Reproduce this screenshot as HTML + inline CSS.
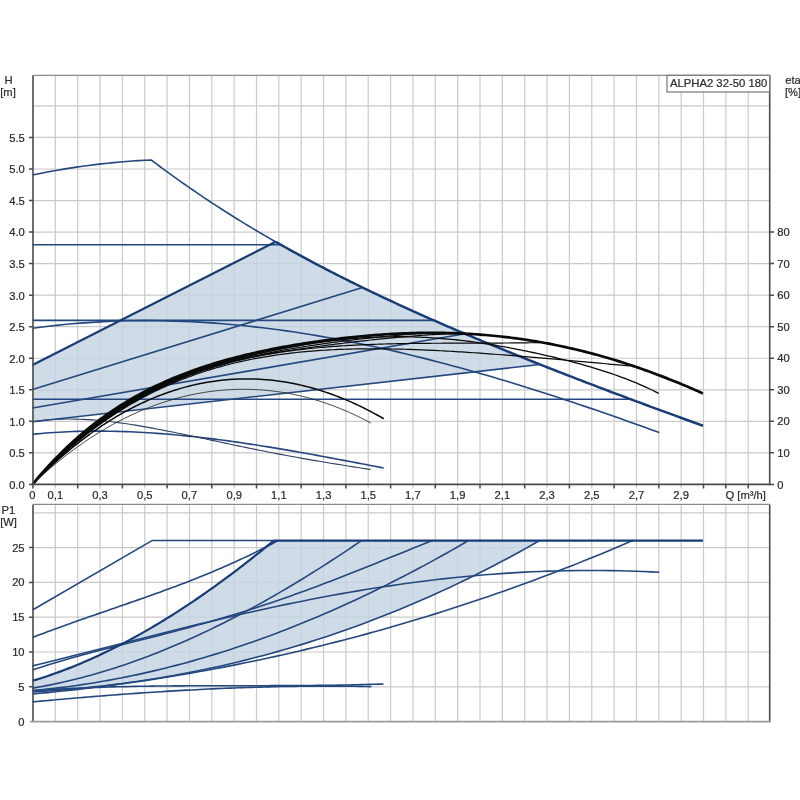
<!DOCTYPE html>
<html><head><meta charset="utf-8"><title>ALPHA2 32-50 180</title>
<style>
html,body{margin:0;padding:0;background:#fff;}
body{width:800px;height:800px;overflow:hidden;font-family:"Liberation Sans",sans-serif;}
svg{display:block;filter:blur(0.35px)}
svg text{font-family:"Liberation Sans",sans-serif;fill:#2b2b2b;stroke:#2b2b2b;stroke-width:0.22px;}
</style></head><body>
<svg width="800" height="800" viewBox="0 0 800 800">
<rect width="800" height="800" fill="#fff"/>
<path d="M55.35,75.3 V488.4 M55.35,504.4 V721.6 M77.70,75.3 V484.4 M77.70,504.4 V721.6 M100.05,75.3 V488.4 M100.05,504.4 V721.6 M122.40,75.3 V484.4 M122.40,504.4 V721.6 M144.75,75.3 V488.4 M144.75,504.4 V721.6 M167.10,75.3 V484.4 M167.10,504.4 V721.6 M189.45,75.3 V488.4 M189.45,504.4 V721.6 M211.80,75.3 V484.4 M211.80,504.4 V721.6 M234.15,75.3 V488.4 M234.15,504.4 V721.6 M256.50,75.3 V484.4 M256.50,504.4 V721.6 M278.85,75.3 V488.4 M278.85,504.4 V721.6 M301.20,75.3 V484.4 M301.20,504.4 V721.6 M323.55,75.3 V488.4 M323.55,504.4 V721.6 M345.90,75.3 V484.4 M345.90,504.4 V721.6 M368.25,75.3 V488.4 M368.25,504.4 V721.6 M390.60,75.3 V484.4 M390.60,504.4 V721.6 M412.95,75.3 V488.4 M412.95,504.4 V721.6 M435.30,75.3 V484.4 M435.30,504.4 V721.6 M457.65,75.3 V488.4 M457.65,504.4 V721.6 M480.00,75.3 V484.4 M480.00,504.4 V721.6 M502.35,75.3 V488.4 M502.35,504.4 V721.6 M524.70,75.3 V484.4 M524.70,504.4 V721.6 M547.05,75.3 V488.4 M547.05,504.4 V721.6 M569.40,75.3 V484.4 M569.40,504.4 V721.6 M591.75,75.3 V488.4 M591.75,504.4 V721.6 M614.10,75.3 V484.4 M614.10,504.4 V721.6 M636.45,75.3 V488.4 M636.45,504.4 V721.6 M658.80,75.3 V484.4 M658.80,504.4 V721.6 M681.15,75.3 V488.4 M681.15,504.4 V721.6 M703.50,75.3 V484.4 M703.50,504.4 V721.6 M725.85,75.3 V484.4 M725.85,504.4 V721.6 M748.20,75.3 V484.4 M748.20,504.4 V721.6 M33.0,452.86 H769.7 M33.0,421.32 H769.7 M33.0,389.78 H769.7 M33.0,358.24 H769.7 M33.0,326.70 H769.7 M33.0,295.16 H769.7 M33.0,263.62 H769.7 M33.0,232.08 H769.7 M33.0,200.54 H769.7 M33.0,169.00 H769.7 M33.0,137.46 H769.7 M33.0,105.92 H769.7 M33.0,686.80 H769.7 M33.0,652.00 H769.7 M33.0,617.20 H769.7 M33.0,582.40 H769.7 M33.0,547.60 H769.7 M33.0,512.80 H769.7" stroke="#cacaca" stroke-width="1.2" fill="none"/>
<path d="M32.50,365.00 L275.60,241.80 L276.02,242.04 L278.79,243.62 L281.56,245.18 L284.34,246.74 L287.11,248.29 L289.88,249.84 L292.65,251.37 L295.43,252.89 L298.20,254.41 L300.97,255.92 L303.74,257.42 L306.52,258.91 L309.29,260.40 L312.06,261.87 L314.83,263.34 L317.61,264.81 L320.38,266.26 L323.15,267.71 L325.92,269.15 L328.70,270.58 L331.47,272.00 L334.24,273.42 L337.02,274.83 L339.79,276.24 L342.56,277.63 L345.33,279.02 L348.11,280.41 L350.88,281.78 L353.65,283.16 L356.42,284.52 L359.20,285.88 L361.97,287.23 L364.74,288.58 L367.51,289.92 L370.29,291.25 L373.06,292.58 L375.83,293.90 L378.60,295.22 L381.38,296.53 L384.15,297.84 L386.92,299.14 L389.69,300.43 L392.47,301.72 L395.24,303.01 L398.01,304.29 L400.79,305.56 L403.56,306.83 L406.33,308.09 L409.10,309.35 L411.88,310.61 L414.65,311.86 L417.42,313.10 L420.19,314.34 L422.97,315.58 L425.74,316.81 L428.51,318.04 L431.28,319.26 L434.06,320.48 L436.83,321.70 L439.60,322.91 L442.37,324.11 L445.15,325.31 L447.92,326.51 L450.69,327.71 L453.46,328.90 L456.24,330.09 L459.01,331.27 L461.78,332.45 L464.56,333.63 L467.33,334.80 L470.10,335.97 L472.87,337.13 L475.65,338.29 L478.42,339.45 L481.19,340.61 L483.96,341.76 L486.74,342.91 L489.51,344.06 L492.28,345.20 L495.05,346.34 L497.83,347.48 L500.60,348.61 L503.37,349.74 L506.14,350.87 L508.92,352.00 L511.69,353.12 L514.46,354.24 L517.23,355.36 L520.01,356.47 L522.78,357.59 L525.55,358.70 L528.33,359.81 L531.10,360.91 L533.87,362.01 L536.64,363.11 L539.42,364.21 L540.00,364.44 L32.5,421.75 Z" fill="rgba(196,212,227,0.82)" stroke="none"/>
<path d="M32.50,680.80 L35.55,679.88 L38.61,678.93 L41.66,677.96 L44.72,676.96 L47.77,675.94 L50.83,674.90 L53.88,673.83 L56.94,672.74 L59.99,671.62 L63.04,670.48 L66.10,669.32 L69.15,668.13 L72.21,666.92 L75.26,665.69 L78.32,664.43 L81.37,663.15 L84.43,661.85 L87.48,660.53 L90.53,659.18 L93.59,657.81 L96.64,656.41 L99.70,655.00 L102.75,653.56 L105.81,652.10 L108.86,650.62 L111.92,649.11 L114.97,647.59 L118.02,646.04 L121.08,644.47 L124.13,642.88 L127.19,641.26 L130.24,639.63 L133.30,637.97 L136.35,636.30 L139.41,634.60 L142.46,632.88 L145.51,631.14 L148.57,629.38 L151.62,627.60 L154.68,625.80 L157.73,623.97 L160.79,622.13 L163.84,620.27 L166.89,618.38 L169.95,616.48 L173.00,614.56 L176.06,612.61 L179.11,610.65 L182.17,608.67 L185.22,606.67 L188.28,604.65 L191.33,602.61 L194.38,600.55 L197.44,598.47 L200.49,596.37 L203.55,594.25 L206.60,592.12 L209.66,589.96 L212.71,587.79 L215.77,585.60 L218.82,583.39 L221.87,581.16 L224.93,578.92 L227.98,576.65 L231.04,574.37 L234.09,572.07 L237.15,569.76 L240.20,567.42 L243.26,565.07 L246.31,562.70 L249.36,560.31 L252.42,557.91 L255.47,555.48 L258.53,553.05 L261.58,550.59 L264.64,548.12 L267.69,545.63 L270.75,543.12 L273.80,540.60 L539.50,540.60 L533.08,544.26 L526.66,547.88 L520.25,551.44 L513.83,554.96 L507.41,558.42 L500.99,561.83 L494.58,565.20 L488.16,568.52 L481.74,571.79 L475.32,575.00 L468.91,578.18 L462.49,581.30 L456.07,584.37 L449.65,587.40 L443.23,590.38 L436.82,593.31 L430.40,596.20 L423.98,599.04 L417.56,601.83 L411.15,604.58 L404.73,607.28 L398.31,609.93 L391.89,612.54 L385.47,615.10 L379.06,617.62 L372.64,620.09 L366.22,622.52 L359.80,624.90 L353.39,627.24 L346.97,629.53 L340.55,631.78 L334.13,633.98 L327.72,636.15 L321.30,638.26 L314.88,640.34 L308.46,642.37 L302.04,644.36 L295.63,646.31 L289.21,648.21 L282.79,650.07 L276.37,651.89 L269.96,653.67 L263.54,655.41 L257.12,657.10 L250.70,658.75 L244.28,660.37 L237.87,661.94 L231.45,663.47 L225.03,664.96 L218.61,666.41 L212.20,667.82 L205.78,669.20 L199.36,670.53 L192.94,671.82 L186.53,673.08 L180.11,674.29 L173.69,675.47 L167.27,676.60 L160.85,677.70 L154.44,678.77 L148.02,679.79 L141.60,680.78 L135.18,681.73 L128.77,682.64 L122.35,683.51 L115.93,684.35 L109.51,685.15 L103.09,685.92 L96.68,686.65 L90.26,687.34 L83.84,688.00 L77.42,688.62 L71.01,689.21 L64.59,689.76 L58.17,690.28 L51.75,690.76 L45.34,691.21 L38.92,691.62 L32.50,692.00 Z" fill="rgba(196,212,227,0.82)" stroke="none"/>
<path d="M32.50,244.70 L281.00,244.70" stroke="#23477e" stroke-width="1.6" fill="none" stroke-linejoin="round" />
<path d="M32.50,320.40 L434.50,320.40" stroke="#23477e" stroke-width="1.6" fill="none" stroke-linejoin="round" />
<path d="M32.50,399.25 L632.50,399.25" stroke="#23477e" stroke-width="1.6" fill="none" stroke-linejoin="round" />
<path d="M32.50,328.25 L40.43,327.20 L48.37,326.24 L56.30,325.35 L64.23,324.54 L72.17,323.81 L80.10,323.16 L88.03,322.58 L95.97,322.08 L103.90,321.65 L111.84,321.30 L119.77,321.02 L127.70,320.82 L135.64,320.68 L143.57,320.62 L151.50,320.63 L159.44,320.71 L167.37,320.86 L175.30,321.08 L183.24,321.37 L191.17,321.72 L199.10,322.14 L207.04,322.62 L214.97,323.17 L222.91,323.78 L230.84,324.46 L238.77,325.20 L246.71,326.00 L254.64,326.86 L262.57,327.78 L270.51,328.77 L278.44,329.81 L286.37,330.90 L294.31,332.06 L302.24,333.27 L310.17,334.54 L318.11,335.86 L326.04,337.24 L333.97,338.66 L341.91,340.14 L349.84,341.68 L357.78,343.26 L365.71,344.89 L373.64,346.57 L381.58,348.30 L389.51,350.08 L397.44,351.90 L405.38,353.77 L413.31,355.69 L421.24,357.64 L429.18,359.65 L437.11,361.69 L445.04,363.77 L452.98,365.90 L460.91,368.06 L468.84,370.27 L476.78,372.51 L484.71,374.79 L492.65,377.10 L500.58,379.45 L508.51,381.84 L516.45,384.26 L524.38,386.71 L532.31,389.19 L540.25,391.70 L548.18,394.25 L556.11,396.82 L564.05,399.42 L571.98,402.05 L579.91,404.70 L587.85,407.38 L595.78,410.09 L603.72,412.82 L611.65,415.57 L619.58,418.34 L627.52,421.14 L635.45,423.95 L643.38,426.78 L651.32,429.63 L659.25,432.50" stroke="#23477e" stroke-width="1.6" fill="none" stroke-linejoin="round" />
<path d="M32.50,434.25 L36.95,433.83 L41.39,433.43 L45.84,433.07 L50.28,432.75 L54.73,432.45 L59.18,432.18 L63.62,431.95 L68.07,431.74 L72.52,431.57 L76.96,431.42 L81.41,431.31 L85.85,431.22 L90.30,431.16 L94.75,431.13 L99.19,431.12 L103.64,431.14 L108.09,431.19 L112.53,431.26 L116.98,431.36 L121.42,431.49 L125.87,431.64 L130.32,431.81 L134.76,432.01 L139.21,432.23 L143.66,432.47 L148.10,432.74 L152.55,433.03 L156.99,433.34 L161.44,433.67 L165.89,434.02 L170.33,434.39 L174.78,434.78 L179.22,435.20 L183.67,435.63 L188.12,436.08 L192.56,436.55 L197.01,437.03 L201.46,437.54 L205.90,438.06 L210.35,438.59 L214.79,439.15 L219.24,439.72 L223.69,440.30 L228.13,440.90 L232.58,441.52 L237.03,442.14 L241.47,442.79 L245.92,443.44 L250.36,444.11 L254.81,444.79 L259.26,445.48 L263.70,446.19 L268.15,446.90 L272.59,447.63 L277.04,448.36 L281.49,449.11 L285.93,449.86 L290.38,450.63 L294.83,451.40 L299.27,452.18 L303.72,452.97 L308.16,453.76 L312.61,454.57 L317.06,455.38 L321.50,456.19 L325.95,457.01 L330.40,457.84 L334.84,458.67 L339.29,459.50 L343.73,460.34 L348.18,461.19 L352.63,462.03 L357.07,462.88 L361.52,463.73 L365.97,464.58 L370.41,465.44 L374.86,466.29 L379.30,467.15 L383.75,468.00" stroke="#23477e" stroke-width="1.6" fill="none" stroke-linejoin="round" />
<path d="M32.50,421.75 L36.78,421.12 L41.06,420.58 L45.34,420.13 L49.63,419.75 L53.91,419.46 L58.19,419.24 L62.47,419.10 L66.75,419.03 L71.03,419.02 L75.32,419.08 L79.60,419.20 L83.88,419.37 L88.16,419.61 L92.44,419.90 L96.72,420.23 L101.01,420.62 L105.29,421.05 L109.57,421.53 L113.85,422.04 L118.13,422.59 L122.41,423.18 L126.70,423.81 L130.98,424.46 L135.26,425.14 L139.54,425.86 L143.82,426.59 L148.10,427.35 L152.39,428.13 L156.67,428.94 L160.95,429.75 L165.23,430.59 L169.51,431.44 L173.79,432.30 L178.08,433.18 L182.36,434.06 L186.64,434.95 L190.92,435.85 L195.20,436.75 L199.48,437.66 L203.77,438.57 L208.05,439.49 L212.33,440.40 L216.61,441.31 L220.89,442.22 L225.17,443.13 L229.46,444.04 L233.74,444.94 L238.02,445.84 L242.30,446.73 L246.58,447.62 L250.86,448.50 L255.15,449.37 L259.43,450.23 L263.71,451.08 L267.99,451.93 L272.27,452.77 L276.55,453.59 L280.84,454.41 L285.12,455.22 L289.40,456.01 L293.68,456.80 L297.96,457.58 L302.24,458.34 L306.53,459.10 L310.81,459.85 L315.09,460.59 L319.37,461.31 L323.65,462.03 L327.93,462.74 L332.22,463.45 L336.50,464.14 L340.78,464.83 L345.06,465.51 L349.34,466.19 L353.62,466.86 L357.91,467.52 L362.19,468.18 L366.47,468.84 L370.75,469.50" stroke="#2e3f63" stroke-width="1.1" fill="none" stroke-linejoin="round" />
<path d="M32.50,175.00 L38.75,173.72 L45.00,172.49 L51.25,171.31 L57.50,170.19 L63.75,169.13 L70.00,168.12 L76.25,167.16 L82.50,166.27 L88.75,165.42 L95.00,164.63 L101.25,163.90 L107.50,163.22 L113.75,162.59 L120.00,162.02 L126.25,161.51 L132.50,161.05 L138.75,160.64 L145.00,160.29 L151.25,160.00 L151.25,160.00 L154.02,162.10 L156.80,164.18 L159.57,166.25 L162.34,168.31 L165.11,170.35 L167.89,172.38 L170.66,174.39 L173.43,176.39 L176.20,178.38 L178.98,180.36 L181.75,182.32 L184.52,184.27 L187.29,186.20 L190.07,188.12 L192.84,190.03 L195.61,191.93 L198.38,193.81 L201.16,195.69 L203.93,197.55 L206.70,199.39 L209.47,201.23 L212.25,203.05 L215.02,204.87 L217.79,206.67 L220.57,208.46 L223.34,210.24 L226.11,212.00 L228.88,213.76 L231.66,215.50 L234.43,217.24 L237.20,218.96 L239.97,220.68 L242.75,222.38 L245.52,224.07 L248.29,225.75 L251.06,227.43 L253.84,229.09 L256.61,230.74 L259.38,232.38 L262.15,234.02 L264.93,235.64 L267.70,237.25 L270.47,238.86 L273.24,240.45 L275.60,241.80" stroke="#23477e" stroke-width="1.6" fill="none" stroke-linejoin="round" />
<path d="M32.50,389.50 L362.50,287.49" stroke="#23477e" stroke-width="1.6" fill="none" stroke-linejoin="round" />
<path d="M32.50,408.00 L465.00,333.81" stroke="#23477e" stroke-width="1.6" fill="none" stroke-linejoin="round" />
<path d="M32.50,421.75 L540.00,364.44" stroke="#23477e" stroke-width="1.6" fill="none" stroke-linejoin="round" />
<path d="M32.50,365.00 L275.60,241.80" stroke="#183c75" stroke-width="2.2" fill="none" stroke-linejoin="round" />
<path d="M275.60,241.80 L276.02,242.04 L278.79,243.62 L281.56,245.18 L284.34,246.74 L287.11,248.29 L289.88,249.84 L292.65,251.37 L295.43,252.89 L298.20,254.41 L300.97,255.92 L303.74,257.42 L306.52,258.91 L309.29,260.40 L312.06,261.87 L314.83,263.34 L317.61,264.81 L320.38,266.26 L323.15,267.71 L325.92,269.15 L328.70,270.58 L331.47,272.00 L334.24,273.42 L337.02,274.83 L339.79,276.24 L342.56,277.63 L345.33,279.02 L348.11,280.41 L350.88,281.78 L353.65,283.16 L356.42,284.52 L359.20,285.88 L361.97,287.23 L364.74,288.58 L367.51,289.92 L370.29,291.25 L373.06,292.58 L375.83,293.90 L378.60,295.22 L381.38,296.53 L384.15,297.84 L386.92,299.14 L389.69,300.43 L392.47,301.72 L395.24,303.01 L398.01,304.29 L400.79,305.56 L403.56,306.83 L406.33,308.09 L409.10,309.35 L411.88,310.61 L414.65,311.86 L417.42,313.10 L420.19,314.34 L422.97,315.58 L425.74,316.81 L428.51,318.04 L431.28,319.26 L434.06,320.48 L436.83,321.70 L439.60,322.91 L442.37,324.11 L445.15,325.31 L447.92,326.51 L450.69,327.71 L453.46,328.90 L456.24,330.09 L459.01,331.27 L461.78,332.45 L464.56,333.63 L467.33,334.80 L470.10,335.97 L472.87,337.13 L475.65,338.29 L478.42,339.45 L481.19,340.61 L483.96,341.76 L486.74,342.91 L489.51,344.06 L492.28,345.20 L495.05,346.34 L497.83,347.48 L500.60,348.61 L503.37,349.74 L506.14,350.87 L508.92,352.00 L511.69,353.12 L514.46,354.24 L517.23,355.36 L520.01,356.47 L522.78,357.59 L525.55,358.70 L528.33,359.81 L531.10,360.91 L533.87,362.01 L536.64,363.11 L539.42,364.21 L542.19,365.31 L544.96,366.40 L547.73,367.49 L550.51,368.58 L553.28,369.67 L556.05,370.75 L558.82,371.83 L561.60,372.91 L564.37,373.99 L567.14,375.07 L569.91,376.14 L572.69,377.22 L575.46,378.29 L578.23,379.36 L581.01,380.42 L583.78,381.49 L586.55,382.55 L589.32,383.61 L592.10,384.67 L594.87,385.73 L597.64,386.78 L600.41,387.84 L603.19,388.89 L605.96,389.94 L608.73,390.99 L611.50,392.04 L614.28,393.08 L617.05,394.13 L619.82,395.17 L622.59,396.21 L625.37,397.25 L628.14,398.29 L630.91,399.33 L633.68,400.36 L636.46,401.39 L639.23,402.43 L642.00,403.46 L644.78,404.49 L647.55,405.51 L650.32,406.54 L653.09,407.56 L655.87,408.59 L658.64,409.61 L661.41,410.63 L664.18,411.65 L666.96,412.66 L669.73,413.68 L672.50,414.69 L675.27,415.70 L678.05,416.72 L680.82,417.73 L683.59,418.73 L686.36,419.74 L689.14,420.75 L691.91,421.75 L694.68,422.75 L697.45,423.75 L700.23,424.75 L703.00,425.75" stroke="#183c75" stroke-width="2.45" fill="none" stroke-linejoin="round" />
<path d="M32.50,484.40 L35.09,481.28 L37.68,478.22 L40.26,475.21 L42.85,472.26 L45.44,469.36 L48.03,466.52 L50.62,463.73 L53.20,460.99 L55.79,458.30 L58.38,455.67 L60.97,453.08 L63.56,450.54 L66.14,448.05 L68.73,445.60 L71.32,443.21 L73.91,440.85 L76.50,438.55 L79.08,436.28 L81.67,434.06 L84.26,431.89 L86.85,429.75 L89.44,427.66 L92.02,425.61 L94.61,423.59 L97.20,421.62 L99.79,419.68 L102.38,417.78 L104.96,415.92 L107.55,414.10 L110.14,412.31 L112.73,410.56 L115.32,408.84 L117.91,407.16 L120.49,405.51 L123.08,403.89 L125.67,402.30 L128.26,400.75 L130.85,399.22 L133.43,397.73 L136.02,396.27 L138.61,394.83 L141.20,393.43 L143.79,392.05 L146.37,390.70 L148.96,389.38 L151.55,388.08 L154.14,386.81 L156.73,385.57 L159.31,384.35 L161.90,383.15 L164.49,381.98 L167.08,380.83 L169.67,379.71 L172.25,378.60 L174.84,377.52 L177.43,376.46 L180.02,375.43 L182.61,374.41 L185.19,373.41 L187.78,372.44 L190.37,371.48 L192.96,370.54 L195.55,369.62 L198.13,368.72 L200.72,367.83 L203.31,366.97 L205.90,366.12 L208.49,365.28 L211.07,364.47 L213.66,363.66 L216.25,362.88 L218.84,362.11 L221.43,361.35 L224.01,360.61 L226.60,359.89 L229.19,359.17 L231.78,358.47 L234.37,357.79 L236.95,357.12 L239.54,356.46 L242.13,355.81 L244.72,355.17 L247.31,354.55 L249.89,353.94 L252.48,353.34 L255.07,352.75 L257.66,352.17 L260.25,351.60 L262.83,351.05 L265.42,350.50 L268.01,349.96 L270.60,349.44 L273.19,348.92 L275.77,348.41 L278.36,347.92 L280.95,347.43 L283.54,346.95 L286.13,346.48 L288.72,346.01 L291.30,345.56 L293.89,345.12 L296.48,344.68 L299.07,344.25 L301.66,343.83 L304.24,343.42 L306.83,343.02 L309.42,342.62 L312.01,342.23 L314.60,341.85 L317.18,341.48 L319.77,341.11 L322.36,340.75 L324.95,340.40 L327.54,340.06 L330.12,339.72 L332.71,339.40 L335.30,339.07 L337.89,338.76 L340.48,338.45 L343.06,338.16 L345.65,337.86 L348.24,337.58 L350.83,337.30 L353.42,337.04 L356.00,336.77 L358.59,336.52 L361.18,336.27 L363.77,336.04 L366.36,335.81 L368.94,335.58 L371.53,335.37 L374.12,335.16 L376.71,334.96 L379.30,334.77 L381.88,334.59 L384.47,334.42 L387.06,334.25 L389.65,334.10 L392.24,333.95 L394.82,333.81 L397.41,333.68 L400.00,333.56 L402.59,333.45 L405.18,333.34 L407.76,333.25 L410.35,333.17 L412.94,333.09 L415.53,333.02 L418.12,332.97 L420.70,332.92 L423.29,332.88 L425.88,332.86 L428.47,332.84 L431.06,332.83 L433.64,332.83 L436.23,332.84 L438.82,332.86 L441.41,332.90 L444.00,332.94 L446.58,332.99 L449.17,333.05 L451.76,333.12 L454.35,333.21 L456.94,333.30 L459.53,333.40 L462.11,333.52 L464.70,333.64 L467.29,333.78 L469.88,333.92 L472.47,334.08 L475.05,334.25 L477.64,334.43 L480.23,334.61 L482.82,334.81 L485.41,335.02 L487.99,335.25 L490.58,335.48 L493.17,335.72 L495.76,335.98 L498.35,336.24 L500.93,336.52 L503.52,336.81 L506.11,337.11 L508.70,337.42 L511.29,337.74 L513.87,338.07 L516.46,338.42 L519.05,338.77 L521.64,339.14 L524.23,339.52 L526.81,339.91 L529.40,340.31 L531.99,340.72 L534.58,341.15 L537.17,341.58 L539.75,342.03 L542.34,342.49 L544.93,342.96 L547.52,343.44 L550.11,343.94 L552.69,344.44 L555.28,344.96 L557.87,345.49 L560.46,346.03 L563.05,346.58 L565.63,347.14 L568.22,347.72 L570.81,348.31 L573.40,348.90 L575.99,349.51 L578.57,350.14 L581.16,350.77 L583.75,351.41 L586.34,352.07 L588.93,352.74 L591.51,353.42 L594.10,354.11 L596.69,354.81 L599.28,355.53 L601.87,356.26 L604.45,356.99 L607.04,357.74 L609.63,358.50 L612.22,359.28 L614.81,360.06 L617.39,360.86 L619.98,361.66 L622.57,362.48 L625.16,363.31 L627.75,364.16 L630.34,365.01 L632.92,365.87 L635.51,366.75 L638.10,367.64 L640.69,368.53 L643.28,369.44 L645.86,370.37 L648.45,371.30 L651.04,372.24 L653.63,373.20 L656.22,374.16 L658.80,375.14 L661.39,376.13 L663.98,377.12 L666.57,378.13 L669.16,379.16 L671.74,380.19 L674.33,381.23 L676.92,382.28 L679.51,383.35 L682.10,384.42 L684.68,385.51 L687.27,386.60 L689.86,387.71 L692.45,388.83 L695.04,389.95 L697.62,391.09 L700.21,392.24 L702.80,393.40" stroke="#0a0a0a" stroke-width="2.7" fill="none" stroke-linejoin="round" />
<path d="M32.50,484.40 L35.09,481.38 L37.68,478.41 L40.26,475.49 L42.85,472.62 L45.44,469.80 L48.03,467.03 L50.62,464.31 L53.20,461.63 L55.79,459.00 L58.38,456.42 L60.97,453.89 L63.56,451.40 L66.14,448.95 L68.73,446.55 L71.32,444.19 L73.91,441.88 L76.50,439.61 L79.08,437.37 L81.67,435.18 L84.26,433.03 L86.85,430.92 L89.44,428.84 L92.02,426.81 L94.61,424.81 L97.20,422.85 L99.79,420.93 L102.38,419.04 L104.96,417.19 L107.55,415.37 L110.14,413.59 L112.73,411.84 L115.32,410.12 L117.91,408.44 L120.49,406.79 L123.08,405.17 L125.67,403.58 L128.26,402.02 L130.85,400.49 L133.43,399.00 L136.02,397.53 L138.61,396.09 L141.20,394.67 L143.79,393.29 L146.37,391.93 L148.96,390.60 L151.55,389.28 L154.14,387.98 L156.73,386.70 L159.31,385.44 L161.90,384.22 L164.49,383.01 L167.08,381.83 L169.67,380.68 L172.25,379.54 L174.84,378.43 L177.43,377.34 L180.02,376.28 L182.61,375.23 L185.19,374.21 L187.78,373.20 L190.37,372.22 L192.96,371.25 L195.55,370.31 L198.13,369.38 L200.72,368.47 L203.31,367.58 L205.90,366.71 L208.49,365.85 L211.07,365.02 L213.66,364.19 L216.25,363.39 L218.84,362.60 L221.43,361.82 L224.01,361.06 L226.60,360.31 L229.19,359.58 L231.78,358.86 L234.37,358.15 L236.95,357.46 L239.54,356.78 L242.13,356.11 L244.72,355.46 L247.31,354.81 L249.89,354.18 L252.48,353.56 L255.07,352.95 L257.66,352.35 L260.25,351.76 L262.83,351.18 L265.42,350.60 L268.01,350.04 L270.60,349.49 L273.19,348.95 L275.77,348.41" stroke="#0a0a0a" stroke-width="1.2" fill="none" stroke-linejoin="round" />
<path d="M32.50,484.40 L35.09,481.43 L37.68,478.50 L40.26,475.62 L42.85,472.80 L45.44,470.01 L48.03,467.28 L50.62,464.59 L53.20,461.95 L55.79,459.35 L58.38,456.80 L60.97,454.29 L63.56,451.83 L66.14,449.41 L68.73,447.03 L71.32,444.69 L73.91,442.39 L76.50,440.13 L79.08,437.92 L81.67,435.74 L84.26,433.60 L86.85,431.50 L89.44,429.44 L92.02,427.41 L94.61,425.42 L97.20,423.47 L99.79,421.55 L102.38,419.67 L104.96,417.82 L107.55,416.01 L110.14,414.22 L112.73,412.48 L115.32,410.76 L117.91,409.08 L120.49,407.43 L123.08,405.81 L125.67,404.22 L128.26,402.66 L130.85,401.13 L133.43,399.63 L136.02,398.15 L138.61,396.71 L141.20,395.30 L143.79,393.91 L146.37,392.54 L148.96,391.21 L151.55,389.90 L154.14,388.62 L156.73,387.36 L159.31,386.13 L161.90,384.89 L164.49,383.67 L167.08,382.47 L169.67,381.29 L172.25,380.14 L174.84,379.02 L177.43,377.91 L180.02,376.83 L182.61,375.76 L185.19,374.72 L187.78,373.70 L190.37,372.71 L192.96,371.73 L195.55,370.77 L198.13,369.83 L200.72,368.90 L203.31,368.00 L205.90,367.11 L208.49,366.25 L211.07,365.39 L213.66,364.56 L216.25,363.74 L218.84,362.94 L221.43,362.15 L224.01,361.38 L226.60,360.62 L229.19,359.88 L231.78,359.15 L234.37,358.43 L236.95,357.73 L239.54,357.04 L242.13,356.36 L244.72,355.69 L247.31,355.04 L249.89,354.40 L252.48,353.76 L255.07,353.14 L257.66,352.53 L260.25,351.93 L262.83,351.33 L265.42,350.75 L268.01,350.18 L270.60,349.61 L273.19,349.05 L275.77,348.50 L278.36,347.96 L280.95,347.43" stroke="#0a0a0a" stroke-width="1.2" fill="none" stroke-linejoin="round" />
<path d="M32.50,484.40 L35.09,481.47 L37.68,478.59 L40.26,475.76 L42.85,472.97 L45.44,470.23 L48.03,467.53 L50.62,464.88 L53.20,462.27 L55.79,459.71 L58.38,457.18 L60.97,454.70 L63.56,452.26 L66.14,449.86 L68.73,447.50 L71.32,445.18 L73.91,442.90 L76.50,440.66 L79.08,438.46 L81.67,436.30 L84.26,434.17 L86.85,432.08 L89.44,430.03 L92.02,428.01 L94.61,426.03 L97.20,424.08 L99.79,422.17 L102.38,420.30 L104.96,418.45 L107.55,416.64 L110.14,414.86 L112.73,413.12 L115.32,411.40 L117.91,409.72 L120.49,408.07 L123.08,406.45 L125.67,404.86 L128.26,403.29 L130.85,401.76 L133.43,400.26 L136.02,398.78 L138.61,397.34 L141.20,395.92 L143.79,394.52 L146.37,393.16 L148.96,391.82 L151.55,390.51 L154.14,389.22 L156.73,387.96 L159.31,386.72 L161.90,385.50 L164.49,384.32 L167.08,383.15 L169.67,382.01 L172.25,380.89 L174.84,379.79 L177.43,378.72 L180.02,377.66 L182.61,376.63 L185.19,375.62 L187.78,374.63 L190.37,373.66 L192.96,372.71 L195.55,371.78 L198.13,370.88 L200.72,369.98 L203.31,369.07 L205.90,368.18 L208.49,367.31 L211.07,366.46 L213.66,365.63 L216.25,364.81 L218.84,364.01 L221.43,363.23 L224.01,362.46 L226.60,361.71 L229.19,360.97 L231.78,360.25 L234.37,359.54 L236.95,358.85 L239.54,358.17 L242.13,357.50 L244.72,356.85 L247.31,356.21 L249.89,355.58 L252.48,354.96 L255.07,354.36 L257.66,353.77 L260.25,353.18 L262.83,352.61 L265.42,352.05 L268.01,351.50 L270.60,350.95 L273.19,350.42 L275.77,349.90 L278.36,349.38 L280.95,348.88 L283.54,348.38 L286.13,347.89 L288.72,347.40 L291.30,346.93 L293.89,346.46 L296.48,346.00 L299.07,345.54 L301.66,345.10 L304.24,344.66 L306.83,344.22 L309.42,343.79 L312.01,343.37 L314.60,342.95 L317.18,342.54 L319.77,342.13 L322.36,341.73 L324.95,341.34 L327.54,340.95 L330.12,340.56 L332.71,340.18 L335.30,339.80 L337.89,339.43 L340.48,339.07 L343.06,338.71 L345.65,338.35 L348.24,338.00 L350.83,337.65 L353.42,337.31 L356.00,336.97 L358.59,336.64 L361.18,336.32" stroke="#0a0a0a" stroke-width="1.2" fill="none" stroke-linejoin="round" />
<path d="M32.50,484.40 L35.09,481.52 L37.68,478.69 L40.26,475.90 L42.85,473.15 L45.44,470.45 L48.03,467.79 L50.62,465.17 L53.20,462.59 L55.79,460.06 L58.38,457.56 L60.97,455.10 L63.56,452.69 L66.14,450.31 L68.73,447.98 L71.32,445.68 L73.91,443.42 L76.50,441.19 L79.08,439.01 L81.67,436.86 L84.26,434.74 L86.85,432.66 L89.44,430.62 L92.02,428.61 L94.61,426.64 L97.20,424.70 L99.79,422.80 L102.38,420.92 L104.96,419.08 L107.55,417.28 L110.14,415.50 L112.73,413.76 L115.32,412.04 L117.91,410.36 L120.49,408.71 L123.08,407.09 L125.67,405.49 L128.26,403.93 L130.85,402.40 L133.43,400.89 L136.02,399.41 L138.61,397.96 L141.20,396.54 L143.79,395.14 L146.37,393.77 L148.96,392.43 L151.55,391.11 L154.14,389.82 L156.73,388.55 L159.31,387.31 L161.90,386.09 L164.49,384.90 L167.08,383.73 L169.67,382.58 L172.25,381.46 L174.84,380.36 L177.43,379.28 L180.02,378.22 L182.61,377.19 L185.19,376.17 L187.78,375.18 L190.37,374.21 L192.96,373.26 L195.55,372.33 L198.13,371.41 L200.72,370.52 L203.31,369.65 L205.90,368.80 L208.49,367.96 L211.07,367.14 L213.66,366.35 L216.25,365.56 L218.84,364.80 L221.43,364.05 L224.01,363.33 L226.60,362.61 L229.19,361.92 L231.78,361.24 L234.37,360.57 L236.95,359.92 L239.54,359.29 L242.13,358.67 L244.72,358.07 L247.31,357.48 L249.89,356.90 L252.48,356.34 L255.07,355.80 L257.66,355.26 L260.25,354.74 L262.83,354.18 L265.42,353.64 L268.01,353.11 L270.60,352.59 L273.19,352.08 L275.77,351.58 L278.36,351.08 L280.95,350.60 L283.54,350.13 L286.13,349.67 L288.72,349.21 L291.30,348.76 L293.89,348.32 L296.48,347.89 L299.07,347.47 L301.66,347.05 L304.24,346.64 L306.83,346.23 L309.42,345.84 L312.01,345.44 L314.60,345.06 L317.18,344.68 L319.77,344.30 L322.36,343.94 L324.95,343.57 L327.54,343.21 L330.12,342.86 L332.71,342.51 L335.30,342.17 L337.89,341.83 L340.48,341.49 L343.06,341.16 L345.65,340.84 L348.24,340.52 L350.83,340.20 L353.42,339.89 L356.00,339.58 L358.59,339.27 L361.18,338.97 L363.77,338.68 L366.36,338.39 L368.94,338.10 L371.53,337.82 L374.12,337.54 L376.71,337.27 L379.30,337.00 L381.88,336.74 L384.47,336.48 L387.06,336.23 L389.65,335.98 L392.24,335.74 L394.82,335.51 L397.41,335.28 L400.00,335.06 L402.59,334.84 L405.18,334.63 L407.76,334.43 L410.35,334.24 L412.94,334.05 L415.53,333.87 L418.12,333.70 L420.70,333.54 L423.29,333.39 L425.88,333.24 L428.47,333.11 L431.06,332.98 L433.64,332.87" stroke="#0a0a0a" stroke-width="1.2" fill="none" stroke-linejoin="round" />
<path d="M32.50,484.40 L35.09,481.57 L37.68,478.78 L40.26,476.04 L42.85,473.33 L45.44,470.66 L48.03,468.04 L50.62,465.46 L53.20,462.91 L55.79,460.41 L58.38,457.94 L60.97,455.51 L63.56,453.12 L66.14,450.77 L68.73,448.45 L71.32,446.17 L73.91,443.93 L76.50,441.72 L79.08,439.55 L81.67,437.41 L84.26,435.31 L86.85,433.25 L89.44,431.21 L92.02,429.22 L94.61,427.25 L97.20,425.32 L99.79,423.42 L102.38,421.55 L104.96,419.71 L107.55,417.91 L110.14,416.14 L112.73,414.40 L115.32,412.68 L117.91,411.00 L120.49,409.35 L123.08,407.73 L125.67,406.13 L128.26,404.57 L130.85,403.03 L133.43,401.52 L136.02,400.04 L138.61,398.59 L141.20,397.16 L143.79,395.76 L146.37,394.39 L148.96,393.04 L151.55,391.72 L154.14,390.42 L156.73,389.15 L159.31,387.90 L161.90,386.68 L164.49,385.48 L167.08,384.31 L169.67,383.16 L172.25,382.03 L174.84,380.92 L177.43,379.84 L180.02,378.78 L182.61,377.74 L185.19,376.72 L187.78,375.73 L190.37,374.75 L192.96,373.80 L195.55,372.87 L198.13,371.95 L200.72,371.06 L203.31,370.19 L205.90,369.33 L208.49,368.50 L211.07,367.68 L213.66,366.88 L216.25,366.10 L218.84,365.34 L221.43,364.60 L224.01,363.87 L226.60,363.16 L229.19,362.47 L231.78,361.79 L234.37,361.13 L236.95,360.48 L239.54,359.86 L242.13,359.24 L244.72,358.65 L247.31,358.06 L249.89,357.50 L252.48,356.94 L255.07,356.40 L257.66,355.88 L260.25,355.37 L262.83,354.87 L265.42,354.39 L268.01,353.92 L270.60,353.46 L273.19,353.02 L275.77,352.58 L278.36,352.17 L280.95,351.76 L283.54,351.36 L286.13,350.98 L288.72,350.60 L291.30,350.24 L293.89,349.89 L296.48,349.55 L299.07,349.22 L301.66,348.85 L304.24,348.46 L306.83,348.08 L309.42,347.70 L312.01,347.32 L314.60,346.96 L317.18,346.60 L319.77,346.24 L322.36,345.89 L324.95,345.55 L327.54,345.20 L330.12,344.87 L332.71,344.54 L335.30,344.21 L337.89,343.88 L340.48,343.56 L343.06,343.25 L345.65,342.93 L348.24,342.62 L350.83,342.32 L353.42,342.01 L356.00,341.71 L358.59,341.42 L361.18,341.12 L363.77,340.83 L366.36,340.54 L368.94,340.26 L371.53,339.98 L374.12,339.70 L376.71,339.43 L379.30,339.16 L381.88,338.89 L384.47,338.63 L387.06,338.37 L389.65,338.11 L392.24,337.86 L394.82,337.62 L397.41,337.37 L400.00,337.14 L402.59,336.91 L405.18,336.68 L407.76,336.46 L410.35,336.24 L412.94,336.03 L415.53,335.83 L418.12,335.63 L420.70,335.45 L423.29,335.26 L425.88,335.09 L428.47,334.92 L431.06,334.77 L433.64,334.62 L436.23,334.48 L438.82,334.35 L441.41,334.23 L444.00,334.12 L446.58,334.02 L449.17,333.93 L451.76,333.85 L454.35,333.79 L456.94,333.73 L459.53,333.70 L462.11,333.67 L464.70,333.66" stroke="#0a0a0a" stroke-width="1.2" fill="none" stroke-linejoin="round" />
<path d="M32.50,484.40 L35.05,481.64 L37.60,478.92 L40.15,476.24 L42.70,473.60 L45.25,471.00 L47.80,468.44 L50.35,465.91 L52.90,463.42 L55.45,460.96 L58.00,458.55 L60.55,456.16 L63.10,453.82 L65.65,451.51 L68.20,449.23 L70.75,446.99 L73.30,444.79 L75.85,442.62 L78.40,440.48 L80.95,438.37 L83.51,436.30 L86.06,434.26 L88.61,432.26 L91.16,430.28 L93.71,428.34 L96.26,426.43 L98.81,424.55 L101.36,422.70 L103.91,420.88 L106.46,419.09 L109.01,417.33 L111.56,415.61 L114.11,413.91 L116.66,412.24 L119.21,410.59 L121.76,408.98 L124.31,407.39 L126.86,405.84 L129.41,404.30 L131.96,402.80 L134.51,401.32 L137.06,399.87 L139.61,398.45 L142.16,397.05 L144.71,395.68 L147.26,394.33 L149.81,393.01 L152.36,391.71 L154.91,390.44 L157.46,389.19 L160.01,387.97 L162.56,386.76 L165.11,385.59 L167.66,384.43 L170.21,383.30 L172.76,382.19 L175.31,381.10 L177.86,380.04 L180.41,378.99 L182.96,377.97 L185.52,376.97 L188.07,375.99 L190.62,375.03 L193.17,374.09 L195.72,373.17 L198.27,372.27 L200.82,371.39 L203.37,370.53 L205.92,369.68 L208.47,368.86 L211.02,368.06 L213.57,367.27 L216.12,366.50 L218.67,365.75 L221.22,365.01 L223.77,364.30 L226.32,363.60 L228.87,362.92 L231.42,362.25 L233.97,361.60 L236.52,360.97 L239.07,360.35 L241.62,359.74 L244.17,359.16 L246.72,358.58 L249.27,358.03 L251.82,357.48 L254.37,356.95 L256.92,356.44 L259.47,355.94 L262.02,355.45 L264.57,354.98 L267.12,354.52 L269.67,354.07 L272.22,353.63 L274.77,353.21 L277.32,352.80 L279.87,352.40 L282.42,352.02 L284.97,351.64 L287.53,351.28 L290.08,350.93 L292.63,350.59 L295.18,350.26 L297.73,349.94 L300.28,349.63 L302.83,349.33 L305.38,349.04 L307.93,348.76 L310.48,348.49 L313.03,348.23 L315.58,347.98 L318.13,347.74 L320.68,347.51 L323.23,347.28 L325.78,347.07 L328.33,346.86 L330.88,346.66 L333.43,346.47 L335.98,346.28 L338.53,346.11 L341.08,345.94 L343.63,345.77 L346.18,345.62 L348.73,345.47 L351.28,345.33 L353.83,345.19 L356.38,345.06 L358.93,344.94 L361.48,344.82 L364.03,344.71 L366.58,344.60 L369.13,344.50 L371.68,344.41 L374.23,344.32 L376.78,344.23 L379.33,344.15 L381.88,344.07 L384.43,344.00 L386.98,343.93 L389.54,343.87 L392.09,343.81 L394.64,343.76 L397.19,343.70 L399.74,343.65 L402.29,343.61 L404.84,343.57 L407.39,343.53 L409.94,343.49 L412.49,343.46 L415.04,343.43 L417.59,343.40 L420.14,343.37 L422.69,343.35 L425.24,343.33 L427.79,343.31 L430.34,343.29 L432.89,343.27 L435.44,343.26 L437.99,343.25 L440.54,343.23 L443.09,343.22 L445.64,343.21 L448.19,343.21 L450.74,343.20 L453.29,343.19 L455.84,343.18 L458.39,343.18 L460.94,343.17 L463.49,343.17 L466.04,343.16 L468.59,343.15 L471.14,343.15 L473.69,343.14 L476.24,343.14 L478.79,343.13 L481.34,343.12 L483.89,343.12 L486.44,343.11 L488.99,343.10 L491.55,343.09 L494.10,343.08 L496.65,343.06 L499.20,343.05 L501.75,343.04 L504.30,343.02 L506.85,343.00 L509.40,342.98 L511.95,342.96 L514.50,342.94 L517.05,342.91 L519.60,342.89 L522.15,342.86 L524.70,342.83 L527.25,342.80 L529.80,342.76 L532.35,342.73 L534.90,342.69 L537.45,342.64 L540.00,342.60" stroke="#0a0a0a" stroke-width="1.2" fill="none" stroke-linejoin="round" />
<path d="M32.50,484.40 L35.50,481.19 L38.51,478.04 L41.51,474.94 L44.51,471.89 L47.51,468.89 L50.52,465.94 L53.52,463.05 L56.52,460.20 L59.52,457.41 L62.53,454.66 L65.53,451.96 L68.53,449.31 L71.53,446.71 L74.54,444.15 L77.54,441.64 L80.54,439.18 L83.54,436.76 L86.55,434.39 L89.55,432.06 L92.55,429.78 L95.55,427.54 L98.56,425.34 L101.56,423.18 L104.56,421.07 L107.56,418.99 L110.57,416.96 L113.57,414.97 L116.57,413.02 L119.57,411.11 L122.58,409.24 L125.58,407.40 L128.58,405.60 L131.58,403.85 L134.59,402.12 L137.59,400.44 L140.59,398.79 L143.59,397.18 L146.60,395.60 L149.60,394.06 L152.60,392.55 L155.60,391.07 L158.61,389.63 L161.61,388.22 L164.61,386.85 L167.61,385.50 L170.62,384.19 L173.62,382.91 L176.62,381.66 L179.62,380.44 L182.63,379.25 L185.63,378.10 L188.63,376.97 L191.63,375.86 L194.64,374.79 L197.64,373.75 L200.64,372.73 L203.64,371.74 L206.65,370.78 L209.65,369.84 L212.65,368.93 L215.65,368.04 L218.66,367.18 L221.66,366.35 L224.66,365.54 L227.66,364.75 L230.67,363.99 L233.67,363.25 L236.67,362.53 L239.67,361.84 L242.68,361.17 L245.68,360.52 L248.68,359.89 L251.68,359.28 L254.69,358.70 L257.69,358.13 L260.69,357.59 L263.69,357.06 L266.70,356.56 L269.70,356.07 L272.70,355.61 L275.70,355.16 L278.71,354.73 L281.71,354.31 L284.71,353.92 L287.71,353.54 L290.72,353.18 L293.72,352.84 L296.72,352.51 L299.72,352.20 L302.73,351.90 L305.73,351.62 L308.73,351.35 L311.73,351.10 L314.74,350.87 L317.74,350.65 L320.74,350.44 L323.74,350.24 L326.75,350.06 L329.75,349.90 L332.75,349.74 L335.75,349.60 L338.76,349.47 L341.76,349.35 L344.76,349.25 L347.76,349.16 L350.77,349.07 L353.77,349.00 L356.77,348.94 L359.77,348.89 L362.78,348.85 L365.78,348.82 L368.78,348.80 L371.78,348.79 L374.79,348.79 L377.79,348.80 L380.79,348.82 L383.79,348.85 L386.80,348.88 L389.80,348.93 L392.80,348.98 L395.80,349.04 L398.81,349.11 L401.81,349.18 L404.81,349.26 L407.81,349.35 L410.82,349.45 L413.82,349.55 L416.82,349.66 L419.82,349.78 L422.83,349.90 L425.83,350.03 L428.83,350.16 L431.83,350.30 L434.84,350.45 L437.84,350.60 L440.84,350.75 L443.84,350.91 L446.85,351.08 L449.85,351.25 L452.85,351.42 L455.85,351.60 L458.86,351.79 L461.86,351.97 L464.86,352.17 L467.86,352.36 L470.87,352.56 L473.87,352.76 L476.87,352.97 L479.87,353.18 L482.88,353.39 L485.88,353.61 L488.88,353.83 L491.88,354.05 L494.89,354.27 L497.89,354.50 L500.89,354.73 L503.89,354.96 L506.90,355.19 L509.90,355.43 L512.90,355.67 L515.90,355.91 L518.91,356.15 L521.91,356.40 L524.91,356.64 L527.91,356.89 L530.92,357.14 L533.92,357.39 L536.92,357.65 L539.92,357.90 L542.93,358.15 L545.93,358.41 L548.93,358.67 L551.93,358.93 L554.94,359.19 L557.94,359.45 L560.94,359.71 L563.94,359.98 L566.95,360.24 L569.95,360.51 L572.95,360.78 L575.95,361.04 L578.96,361.31 L581.96,361.58 L584.96,361.85 L587.96,362.12 L590.97,362.39 L593.97,362.67 L596.97,362.94 L599.97,363.21 L602.98,363.49 L605.98,363.77 L608.98,364.04 L611.98,364.32 L614.99,364.60 L617.99,364.88 L620.99,365.16 L623.99,365.44 L627.00,365.72 L630.00,366.00" stroke="#0a0a0a" stroke-width="1.2" fill="none" stroke-linejoin="round" />
<path d="M32.50,484.40 L35.65,480.64 L38.79,476.97 L41.94,473.38 L45.09,469.88 L48.24,466.46 L51.38,463.12 L54.53,459.86 L57.68,456.68 L60.83,453.58 L63.97,450.55 L67.12,447.59 L70.27,444.70 L73.41,441.88 L76.56,439.13 L79.71,436.45 L82.86,433.83 L86.00,431.27 L89.15,428.78 L92.30,426.34 L95.44,423.96 L98.59,421.65 L101.74,419.38 L104.89,417.18 L108.03,415.02 L111.18,412.92 L114.33,410.87 L117.48,408.86 L120.62,406.91 L123.77,405.00 L126.92,403.14 L130.06,401.32 L133.21,399.55 L136.36,397.82 L139.51,396.13 L142.65,394.48 L145.80,392.86 L148.95,391.29 L152.09,389.75 L155.24,388.25 L158.39,386.79 L161.54,385.35 L164.68,383.95 L167.83,382.59 L170.98,381.25 L174.13,379.94 L177.27,378.67 L180.42,377.42 L183.57,376.20 L186.71,375.01 L189.86,373.84 L193.01,372.70 L196.16,371.58 L199.30,370.49 L202.45,369.42 L205.60,368.38 L208.75,367.36 L211.89,366.35 L215.04,365.37 L218.19,364.42 L221.33,363.48 L224.48,362.56 L227.63,361.66 L230.78,360.77 L233.92,359.91 L237.07,359.06 L240.22,358.23 L243.36,357.42 L246.51,356.63 L249.66,355.85 L252.81,355.09 L255.95,354.34 L259.10,353.61 L262.25,352.89 L265.40,352.19 L268.54,351.51 L271.69,350.84 L274.84,350.18 L277.98,349.54 L281.13,348.91 L284.28,348.30 L287.43,347.70 L290.57,347.12 L293.72,346.55 L296.87,346.00 L300.02,345.46 L303.16,344.93 L306.31,344.42 L309.46,343.92 L312.60,343.44 L315.75,342.97 L318.90,342.52 L322.05,342.09 L325.19,341.67 L328.34,341.26 L331.49,340.87 L334.63,340.50 L337.78,340.14 L340.93,339.81 L344.08,339.48 L347.22,339.18 L350.37,338.89 L353.52,338.62 L356.67,338.37 L359.81,338.14 L362.96,337.92 L366.11,337.72 L369.25,337.54 L372.40,337.38 L375.55,337.24 L378.70,337.11 L381.84,337.00 L384.99,336.92 L388.14,336.85 L391.28,336.80 L394.43,336.76 L397.58,336.75 L400.73,336.76 L403.87,336.78 L407.02,336.82 L410.17,336.89 L413.32,336.97 L416.46,337.07 L419.61,337.18 L422.76,337.32 L425.90,337.47 L429.05,337.65 L432.20,337.84 L435.35,338.05 L438.49,338.27 L441.64,338.52 L444.79,338.78 L447.94,339.06 L451.08,339.36 L454.23,339.68 L457.38,340.01 L460.52,340.36 L463.67,340.72 L466.82,341.11 L469.97,341.51 L473.11,341.92 L476.26,342.35 L479.41,342.80 L482.55,343.26 L485.70,343.74 L488.85,344.23 L492.00,344.74 L495.14,345.26 L498.29,345.79 L501.44,346.34 L504.59,346.90 L507.73,347.47 L510.88,348.06 L514.03,348.66 L517.17,349.27 L520.32,349.89 L523.47,350.52 L526.62,351.17 L529.76,351.83 L532.91,352.49 L536.06,353.17 L539.21,353.86 L542.35,354.57 L545.50,355.28 L548.65,356.01 L551.79,356.74 L554.94,357.50 L558.09,358.26 L561.24,359.03 L564.38,359.82 L567.53,360.63 L570.68,361.44 L573.82,362.28 L576.97,363.12 L580.12,363.99 L583.27,364.87 L586.41,365.76 L589.56,366.68 L592.71,367.61 L595.86,368.57 L599.00,369.54 L602.15,370.54 L605.30,371.56 L608.44,372.60 L611.59,373.66 L614.74,374.75 L617.89,375.87 L621.03,377.02 L624.18,378.19 L627.33,379.39 L630.47,380.63 L633.62,381.90 L636.77,383.20 L639.92,384.54 L643.06,385.91 L646.21,387.33 L649.36,388.78 L652.51,390.28 L655.65,391.82 L658.80,393.40" stroke="#0a0a0a" stroke-width="1.3" fill="none" stroke-linejoin="round" />
<path d="M32.50,484.40 L34.27,482.59 L36.03,480.80 L37.80,479.02 L39.56,477.26 L41.33,475.52 L43.09,473.79 L44.86,472.08 L46.62,470.39 L48.39,468.72 L50.15,467.06 L51.92,465.42 L53.68,463.80 L55.45,462.19 L57.21,460.60 L58.98,459.03 L60.74,457.47 L62.51,455.93 L64.27,454.41 L66.04,452.90 L67.80,451.41 L69.57,449.94 L71.33,448.48 L73.10,447.04 L74.86,445.61 L76.63,444.21 L78.39,442.81 L80.16,441.44 L81.92,440.08 L83.69,438.73 L85.45,437.40 L87.22,436.09 L88.98,434.79 L90.75,433.51 L92.51,432.25 L94.28,431.00 L96.04,429.77 L97.81,428.55 L99.57,427.35 L101.34,426.16 L103.10,424.99 L104.87,423.84 L106.63,422.70 L108.40,421.57 L110.16,420.46 L111.93,419.37 L113.69,418.29 L115.46,417.23 L117.22,416.18 L118.99,415.15 L120.75,414.13 L122.52,413.13 L124.28,412.15 L126.05,411.17 L127.81,410.22 L129.58,409.28 L131.34,408.35 L133.11,407.44 L134.87,406.54 L136.64,405.66 L138.40,404.79 L140.17,403.94 L141.93,403.10 L143.70,402.28 L145.46,401.47 L147.23,400.68 L148.99,399.90 L150.76,399.14 L152.53,398.39 L154.29,397.65 L156.06,396.93 L157.82,396.23 L159.59,395.54 L161.35,394.86 L163.12,394.20 L164.88,393.55 L166.65,392.92 L168.41,392.30 L170.18,391.69 L171.94,391.10 L173.71,390.53 L175.47,389.97 L177.24,389.42 L179.00,388.88 L180.77,388.36 L182.53,387.86 L184.30,387.37 L186.06,386.89 L187.83,386.43 L189.59,385.98 L191.36,385.54 L193.12,385.12 L194.89,384.71 L196.65,384.32 L198.42,383.94 L200.18,383.58 L201.95,383.22 L203.71,382.89 L205.48,382.56 L207.24,382.25 L209.01,381.96 L210.77,381.67 L212.54,381.40 L214.30,381.15 L216.07,380.91 L217.83,380.68 L219.60,380.47 L221.36,380.27 L223.13,380.08 L224.89,379.91 L226.66,379.75 L228.42,379.60 L230.19,379.47 L231.95,379.35 L233.72,379.24 L235.48,379.15 L237.25,379.07 L239.01,379.01 L240.78,378.95 L242.54,378.92 L244.31,378.89 L246.07,378.88 L247.84,378.88 L249.60,378.90 L251.37,378.93 L253.13,378.97 L254.90,379.03 L256.66,379.09 L258.43,379.18 L260.19,379.27 L261.96,379.38 L263.72,379.50 L265.49,379.64 L267.26,379.79 L269.02,379.95 L270.79,380.12 L272.55,380.31 L274.32,380.52 L276.08,380.73 L277.85,380.96 L279.61,381.20 L281.38,381.45 L283.14,381.72 L284.91,382.00 L286.67,382.30 L288.44,382.61 L290.20,382.93 L291.97,383.26 L293.73,383.61 L295.50,383.97 L297.26,384.34 L299.03,384.73 L300.79,385.13 L302.56,385.54 L304.32,385.97 L306.09,386.40 L307.85,386.86 L309.62,387.32 L311.38,387.80 L313.15,388.29 L314.91,388.80 L316.68,389.31 L318.44,389.85 L320.21,390.39 L321.97,390.95 L323.74,391.52 L325.50,392.10 L327.27,392.70 L329.03,393.31 L330.80,393.93 L332.56,394.57 L334.33,395.22 L336.09,395.88 L337.86,396.55 L339.62,397.24 L341.39,397.94 L343.15,398.66 L344.92,399.39 L346.68,400.13 L348.45,400.88 L350.21,401.65 L351.98,402.43 L353.74,403.23 L355.51,404.03 L357.27,404.85 L359.04,405.69 L360.80,406.53 L362.57,407.39 L364.33,408.27 L366.10,409.15 L367.86,410.05 L369.63,410.97 L371.39,411.89 L373.16,412.83 L374.92,413.79 L376.69,414.75 L378.45,415.73 L380.22,416.72 L381.98,417.73 L383.75,418.75" stroke="#0a0a0a" stroke-width="1.5" fill="none" stroke-linejoin="round" />
<path d="M32.50,484.40 L34.20,482.79 L35.90,481.19 L37.60,479.61 L39.30,478.04 L41.00,476.50 L42.70,474.96 L44.40,473.44 L46.10,471.94 L47.80,470.45 L49.50,468.98 L51.20,467.52 L52.90,466.08 L54.60,464.65 L56.30,463.24 L58.00,461.85 L59.70,460.46 L61.40,459.10 L63.10,457.74 L64.80,456.41 L66.49,455.08 L68.19,453.78 L69.89,452.48 L71.59,451.20 L73.29,449.94 L74.99,448.69 L76.69,447.45 L78.39,446.23 L80.09,445.03 L81.79,443.83 L83.49,442.65 L85.19,441.49 L86.89,440.34 L88.59,439.20 L90.29,438.08 L91.99,436.97 L93.69,435.88 L95.39,434.79 L97.09,433.73 L98.79,432.67 L100.49,431.63 L102.19,430.61 L103.89,429.59 L105.59,428.59 L107.29,427.61 L108.99,426.63 L110.69,425.67 L112.39,424.73 L114.09,423.80 L115.79,422.88 L117.49,421.97 L119.19,421.08 L120.89,420.20 L122.59,419.33 L124.29,418.47 L125.99,417.63 L127.69,416.80 L129.39,415.99 L131.09,415.19 L132.79,414.40 L134.48,413.62 L136.18,412.86 L137.88,412.10 L139.58,411.37 L141.28,410.64 L142.98,409.93 L144.68,409.23 L146.38,408.54 L148.08,407.86 L149.78,407.20 L151.48,406.55 L153.18,405.91 L154.88,405.28 L156.58,404.67 L158.28,404.07 L159.98,403.48 L161.68,402.90 L163.38,402.34 L165.08,401.79 L166.78,401.25 L168.48,400.72 L170.18,400.20 L171.88,399.70 L173.58,399.21 L175.28,398.73 L176.98,398.26 L178.68,397.80 L180.38,397.36 L182.08,396.93 L183.78,396.51 L185.48,396.10 L187.18,395.71 L188.88,395.33 L190.58,394.95 L192.28,394.59 L193.98,394.25 L195.68,393.91 L197.38,393.59 L199.08,393.28 L200.78,392.98 L202.47,392.69 L204.17,392.41 L205.87,392.15 L207.57,391.89 L209.27,391.65 L210.97,391.42 L212.67,391.20 L214.37,391.00 L216.07,390.80 L217.77,390.62 L219.47,390.45 L221.17,390.29 L222.87,390.14 L224.57,390.01 L226.27,389.89 L227.97,389.77 L229.67,389.67 L231.37,389.58 L233.07,389.51 L234.77,389.44 L236.47,389.39 L238.17,389.34 L239.87,389.31 L241.57,389.30 L243.27,389.29 L244.97,389.29 L246.67,389.31 L248.37,389.34 L250.07,389.38 L251.77,389.43 L253.47,389.49 L255.17,389.57 L256.87,389.65 L258.57,389.75 L260.27,389.86 L261.97,389.98 L263.67,390.12 L265.37,390.26 L267.07,390.42 L268.77,390.59 L270.46,390.77 L272.16,390.96 L273.86,391.17 L275.56,391.38 L277.26,391.61 L278.96,391.85 L280.66,392.10 L282.36,392.36 L284.06,392.64 L285.76,392.93 L287.46,393.23 L289.16,393.54 L290.86,393.86 L292.56,394.20 L294.26,394.54 L295.96,394.90 L297.66,395.27 L299.36,395.66 L301.06,396.05 L302.76,396.46 L304.46,396.88 L306.16,397.31 L307.86,397.75 L309.56,398.21 L311.26,398.68 L312.96,399.16 L314.66,399.65 L316.36,400.16 L318.06,400.67 L319.76,401.20 L321.46,401.75 L323.16,402.30 L324.86,402.87 L326.56,403.45 L328.26,404.04 L329.96,404.64 L331.66,405.26 L333.36,405.89 L335.06,406.53 L336.76,407.19 L338.45,407.85 L340.15,408.53 L341.85,409.23 L343.55,409.93 L345.25,410.65 L346.95,411.38 L348.65,412.13 L350.35,412.89 L352.05,413.66 L353.75,414.44 L355.45,415.24 L357.15,416.05 L358.85,416.87 L360.55,417.70 L362.25,418.55 L363.95,419.42 L365.65,420.29 L367.35,421.18 L369.05,422.08 L370.75,423.00" stroke="#2a2a2a" stroke-width="0.9" fill="none" stroke-linejoin="round" />
<path d="M32.50,665.90 L40.43,663.95 L48.37,661.99 L56.30,660.01 L64.23,658.03 L72.17,656.03 L80.10,654.02 L88.03,652.01 L95.97,650.00 L103.90,647.98 L111.84,645.96 L119.77,643.94 L127.70,641.93 L135.64,639.91 L143.57,637.91 L151.50,635.91 L159.44,633.92 L167.37,631.94 L175.30,629.97 L183.24,628.02 L191.17,626.08 L199.10,624.15 L207.04,622.24 L214.97,620.36 L222.91,618.49 L230.84,616.64 L238.77,614.81 L246.71,613.01 L254.64,611.24 L262.57,609.49 L270.51,607.76 L278.44,606.07 L286.37,604.40 L294.31,602.76 L302.24,601.16 L310.17,599.59 L318.11,598.05 L326.04,596.54 L333.97,595.07 L341.91,593.64 L349.84,592.24 L357.78,590.88 L365.71,589.56 L373.64,588.28 L381.58,587.04 L389.51,585.84 L397.44,584.68 L405.38,583.56 L413.31,582.48 L421.24,581.45 L429.18,580.46 L437.11,579.52 L445.04,578.62 L452.98,577.76 L460.91,576.96 L468.84,576.19 L476.78,575.48 L484.71,574.81 L492.65,574.18 L500.58,573.61 L508.51,573.08 L516.45,572.60 L524.38,572.17 L532.31,571.79 L540.25,571.46 L548.18,571.17 L556.11,570.93 L564.05,570.75 L571.98,570.61 L579.91,570.52 L587.85,570.48 L595.78,570.49 L603.72,570.54 L611.65,570.65 L619.58,570.80 L627.52,571.01 L635.45,571.26 L643.38,571.56 L651.32,571.90 L659.25,572.30" stroke="#23477e" stroke-width="1.6" fill="none" stroke-linejoin="round" />
<path d="M32.50,690.80 L36.94,690.48 L41.39,690.18 L45.83,689.89 L50.27,689.61 L54.72,689.35 L59.16,689.10 L63.60,688.86 L68.04,688.63 L72.49,688.41 L76.93,688.20 L81.37,688.01 L85.82,687.82 L90.26,687.65 L94.70,687.49 L99.15,687.33 L103.59,687.19 L108.03,687.05 L112.47,686.92 L116.92,686.80 L121.36,686.69 L125.80,686.59 L130.25,686.49 L134.69,686.40 L139.13,686.32 L143.58,686.25 L148.02,686.18 L152.46,686.12 L156.91,686.06 L161.35,686.01 L165.79,685.97 L170.23,685.93 L174.68,685.89 L179.12,685.86 L183.56,685.83 L188.01,685.81 L192.45,685.79 L196.89,685.77 L201.34,685.75 L205.78,685.74 L210.22,685.73 L214.66,685.73 L219.11,685.72 L223.55,685.72 L227.99,685.71 L232.44,685.71 L236.88,685.71 L241.32,685.71 L245.77,685.70 L250.21,685.70 L254.65,685.70 L259.09,685.70 L263.54,685.69 L267.98,685.68 L272.42,685.67 L276.87,685.66 L281.31,685.65 L285.75,685.64 L290.20,685.62 L294.64,685.59 L299.08,685.57 L303.53,685.54 L307.97,685.50 L312.41,685.47 L316.85,685.42 L321.30,685.37 L325.74,685.32 L330.18,685.26 L334.63,685.20 L339.07,685.13 L343.51,685.05 L347.96,684.96 L352.40,684.87 L356.84,684.77 L361.28,684.66 L365.73,684.55 L370.17,684.42 L374.61,684.29 L379.06,684.15 L383.50,684.00" stroke="#23477e" stroke-width="1.6" fill="none" stroke-linejoin="round" />
<path d="M32.50,701.90 L36.79,701.50 L41.08,701.11 L45.37,700.72 L49.65,700.33 L53.94,699.94 L58.23,699.56 L62.52,699.18 L66.81,698.81 L71.10,698.44 L75.39,698.07 L79.67,697.71 L83.96,697.35 L88.25,697.00 L92.54,696.65 L96.83,696.30 L101.12,695.96 L105.41,695.63 L109.69,695.29 L113.98,694.96 L118.27,694.64 L122.56,694.32 L126.85,694.01 L131.14,693.70 L135.43,693.40 L139.72,693.10 L144.00,692.80 L148.29,692.51 L152.58,692.23 L156.87,691.95 L161.16,691.68 L165.45,691.41 L169.74,691.15 L174.02,690.89 L178.31,690.64 L182.60,690.40 L186.89,690.16 L191.18,689.93 L195.47,689.70 L199.76,689.48 L204.04,689.27 L208.33,689.06 L212.62,688.86 L216.91,688.66 L221.20,688.47 L225.49,688.29 L229.78,688.12 L234.06,687.95 L238.35,687.79 L242.64,687.63 L246.93,687.48 L251.22,687.34 L255.51,687.21 L259.80,687.08 L264.08,686.96 L268.37,686.85 L272.66,686.75 L276.95,686.65 L281.24,686.56 L285.53,686.48 L289.82,686.41 L294.11,686.34 L298.39,686.29 L302.68,686.24 L306.97,686.19 L311.26,686.16 L315.55,686.14 L319.84,686.12 L324.13,686.11 L328.41,686.11 L332.70,686.12 L336.99,686.14 L341.28,686.16 L345.57,686.20 L349.86,686.24 L354.15,686.30 L358.43,686.36 L362.72,686.43 L367.01,686.51 L371.30,686.60" stroke="#23477e" stroke-width="1.6" fill="none" stroke-linejoin="round" />
<path d="M32.50,670.00 L37.56,668.31 L42.63,666.66 L47.69,665.06 L52.75,663.50 L57.82,661.97 L62.88,660.48 L67.94,659.02 L73.01,657.59 L78.07,656.18 L83.13,654.80 L88.20,653.44 L93.26,652.10 L98.32,650.78 L103.39,649.47 L108.45,648.17 L113.51,646.88 L118.58,645.59 L123.64,644.31 L128.70,643.04 L133.77,641.77 L138.83,640.49 L143.89,639.22 L148.96,637.94 L154.02,636.65 L159.08,635.36 L164.15,634.06 L169.21,632.75 L174.27,631.42 L179.34,630.09 L184.40,628.74 L189.46,627.38 L194.53,626.00 L199.59,624.60 L204.65,623.19 L209.72,621.76 L214.78,620.30 L219.84,618.83 L224.91,617.34 L229.97,615.83 L235.03,614.29 L240.09,612.73 L245.16,611.16 L250.22,609.55 L255.28,607.93 L260.35,606.28 L265.41,604.61 L270.47,602.92 L275.54,601.20 L280.60,599.46 L285.66,597.70 L290.73,595.92 L295.79,594.12 L300.85,592.29 L305.92,590.44 L310.98,588.58 L316.04,586.69 L321.11,584.79 L326.17,582.87 L331.23,580.93 L336.30,578.97 L341.36,577.00 L346.42,575.02 L351.49,573.02 L356.55,571.01 L361.61,569.00 L366.68,566.97 L371.74,564.94 L376.80,562.90 L381.87,560.85 L386.93,558.81 L391.99,556.76 L397.06,554.72 L402.12,552.67 L407.18,550.64 L412.25,548.61 L417.31,546.59 L422.37,544.58 L427.44,542.58 L432.50,540.60" stroke="#23477e" stroke-width="1.6" fill="none" stroke-linejoin="round" />
<path d="M32.50,694.00 L40.10,693.30 L47.69,692.58 L55.29,691.82 L62.89,691.03 L70.49,690.21 L78.08,689.36 L85.68,688.48 L93.28,687.57 L100.88,686.63 L108.47,685.66 L116.07,684.66 L123.67,683.62 L131.27,682.56 L138.86,681.47 L146.46,680.34 L154.06,679.18 L161.66,677.99 L169.25,676.77 L176.85,675.52 L184.45,674.24 L192.05,672.93 L199.64,671.58 L207.24,670.20 L214.84,668.79 L222.44,667.35 L230.03,665.88 L237.63,664.38 L245.23,662.84 L252.83,661.27 L260.42,659.67 L268.02,658.04 L275.62,656.38 L283.22,654.68 L290.81,652.95 L298.41,651.19 L306.01,649.39 L313.61,647.57 L321.20,645.71 L328.80,643.82 L336.40,641.89 L344.00,639.94 L351.59,637.95 L359.19,635.92 L366.79,633.87 L374.39,631.78 L381.98,629.65 L389.58,627.50 L397.18,625.31 L404.78,623.09 L412.37,620.83 L419.97,618.54 L427.57,616.22 L435.17,613.87 L442.76,611.48 L450.36,609.05 L457.96,606.60 L465.56,604.10 L473.15,601.58 L480.75,599.02 L488.35,596.43 L495.95,593.80 L503.54,591.14 L511.14,588.44 L518.74,585.71 L526.34,582.95 L533.93,580.15 L541.53,577.32 L549.13,574.45 L556.73,571.55 L564.32,568.61 L571.92,565.64 L579.52,562.63 L587.12,559.59 L594.71,556.51 L602.31,553.40 L609.91,550.25 L617.51,547.07 L625.10,543.85 L632.70,540.60" stroke="#23477e" stroke-width="1.6" fill="none" stroke-linejoin="round" />
<path d="M32.50,637.50 L35.61,636.30 L38.72,635.11 L41.82,633.93 L44.93,632.76 L48.04,631.60 L51.15,630.44 L54.25,629.30 L57.36,628.16 L60.47,627.03 L63.58,625.90 L66.68,624.79 L69.79,623.68 L72.90,622.57 L76.01,621.47 L79.11,620.37 L82.22,619.28 L85.33,618.19 L88.44,617.11 L91.54,616.03 L94.65,614.95 L97.76,613.87 L100.87,612.80 L103.97,611.72 L107.08,610.65 L110.19,609.58 L113.30,608.50 L116.41,607.43 L119.51,606.36 L122.62,605.28 L125.73,604.21 L128.84,603.13 L131.94,602.05 L135.05,600.96 L138.16,599.88 L141.27,598.79 L144.37,597.69 L147.48,596.59 L150.59,595.48 L153.70,594.37 L156.80,593.26 L159.91,592.14 L163.02,591.01 L166.13,589.87 L169.23,588.73 L172.34,587.57 L175.45,586.41 L178.56,585.24 L181.66,584.06 L184.77,582.88 L187.88,581.68 L190.99,580.47 L194.09,579.25 L197.20,578.02 L200.31,576.77 L203.42,575.52 L206.53,574.25 L209.63,572.97 L212.74,571.67 L215.85,570.36 L218.96,569.04 L222.06,567.70 L225.17,566.35 L228.28,564.98 L231.39,563.59 L234.49,562.19 L237.60,560.77 L240.71,559.34 L243.82,557.88 L246.92,556.41 L250.03,554.92 L253.14,553.41 L256.25,551.88 L259.35,550.33 L262.46,548.76 L265.57,547.17 L268.68,545.56 L271.78,543.93 L274.89,542.28 L278.00,540.60" stroke="#23477e" stroke-width="1.6" fill="none" stroke-linejoin="round" />
<path d="M32.50,688.10 L36.66,687.40 L40.83,686.67 L44.99,685.90 L49.16,685.09 L53.32,684.25 L57.49,683.38 L61.65,682.47 L65.82,681.53 L69.98,680.56 L74.15,679.55 L78.31,678.51 L82.47,677.44 L86.64,676.33 L90.80,675.19 L94.97,674.02 L99.13,672.81 L103.30,671.58 L107.46,670.31 L111.63,669.01 L115.79,667.68 L119.96,666.32 L124.12,664.92 L128.28,663.50 L132.45,662.04 L136.61,660.56 L140.78,659.04 L144.94,657.50 L149.11,655.92 L153.27,654.32 L157.44,652.68 L161.60,651.02 L165.77,649.33 L169.93,647.61 L174.09,645.86 L178.26,644.08 L182.42,642.27 L186.59,640.44 L190.75,638.57 L194.92,636.68 L199.08,634.76 L203.25,632.82 L207.41,630.85 L211.58,628.85 L215.74,626.82 L219.91,624.77 L224.07,622.69 L228.23,620.58 L232.40,618.45 L236.56,616.30 L240.73,614.11 L244.89,611.91 L249.06,609.67 L253.22,607.41 L257.39,605.13 L261.55,602.83 L265.72,600.49 L269.88,598.14 L274.04,595.76 L278.21,593.36 L282.37,590.93 L286.54,588.48 L290.70,586.01 L294.87,583.51 L299.03,580.99 L303.20,578.45 L307.36,575.88 L311.53,573.30 L315.69,570.69 L319.85,568.06 L324.02,565.41 L328.18,562.73 L332.35,560.04 L336.51,557.32 L340.68,554.59 L344.84,551.83 L349.01,549.05 L353.17,546.26 L357.34,543.44 L361.50,540.60" stroke="#23477e" stroke-width="1.6" fill="none" stroke-linejoin="round" />
<path d="M32.50,690.50 L38.02,690.00 L43.54,689.47 L49.06,688.89 L54.58,688.28 L60.09,687.63 L65.61,686.95 L71.13,686.22 L76.65,685.46 L82.17,684.66 L87.69,683.82 L93.21,682.94 L98.73,682.03 L104.25,681.08 L109.77,680.09 L115.28,679.07 L120.80,678.00 L126.32,676.90 L131.84,675.77 L137.36,674.60 L142.88,673.39 L148.40,672.14 L153.92,670.86 L159.44,669.54 L164.96,668.19 L170.47,666.80 L175.99,665.37 L181.51,663.91 L187.03,662.41 L192.55,660.87 L198.07,659.30 L203.59,657.70 L209.11,656.06 L214.63,654.38 L220.15,652.67 L225.66,650.92 L231.18,649.14 L236.70,647.32 L242.22,645.47 L247.74,643.58 L253.26,641.66 L258.78,639.70 L264.30,637.71 L269.82,635.69 L275.34,633.63 L280.85,631.53 L286.37,629.41 L291.89,627.24 L297.41,625.05 L302.93,622.82 L308.45,620.55 L313.97,618.25 L319.49,615.92 L325.01,613.56 L330.53,611.16 L336.04,608.73 L341.56,606.26 L347.08,603.76 L352.60,601.23 L358.12,598.67 L363.64,596.07 L369.16,593.44 L374.68,590.78 L380.20,588.08 L385.72,585.35 L391.23,582.59 L396.75,579.80 L402.27,576.98 L407.79,574.12 L413.31,571.23 L418.83,568.31 L424.35,565.36 L429.87,562.37 L435.39,559.36 L440.91,556.31 L446.42,553.23 L451.94,550.12 L457.46,546.98 L462.98,543.80 L468.50,540.60" stroke="#23477e" stroke-width="1.6" fill="none" stroke-linejoin="round" />
<path d="M32.50,692.00 L38.92,691.62 L45.34,691.21 L51.75,690.76 L58.17,690.28 L64.59,689.76 L71.01,689.21 L77.42,688.62 L83.84,688.00 L90.26,687.34 L96.68,686.65 L103.09,685.92 L109.51,685.15 L115.93,684.35 L122.35,683.51 L128.77,682.64 L135.18,681.73 L141.60,680.78 L148.02,679.79 L154.44,678.77 L160.85,677.70 L167.27,676.60 L173.69,675.47 L180.11,674.29 L186.53,673.08 L192.94,671.82 L199.36,670.53 L205.78,669.20 L212.20,667.82 L218.61,666.41 L225.03,664.96 L231.45,663.47 L237.87,661.94 L244.28,660.37 L250.70,658.75 L257.12,657.10 L263.54,655.41 L269.96,653.67 L276.37,651.89 L282.79,650.07 L289.21,648.21 L295.63,646.31 L302.04,644.36 L308.46,642.37 L314.88,640.34 L321.30,638.26 L327.72,636.15 L334.13,633.98 L340.55,631.78 L346.97,629.53 L353.39,627.24 L359.80,624.90 L366.22,622.52 L372.64,620.09 L379.06,617.62 L385.47,615.10 L391.89,612.54 L398.31,609.93 L404.73,607.28 L411.15,604.58 L417.56,601.83 L423.98,599.04 L430.40,596.20 L436.82,593.31 L443.23,590.38 L449.65,587.40 L456.07,584.37 L462.49,581.30 L468.91,578.18 L475.32,575.00 L481.74,571.79 L488.16,568.52 L494.58,565.20 L500.99,561.83 L507.41,558.42 L513.83,554.96 L520.25,551.44 L526.66,547.88 L533.08,544.26 L539.50,540.60" stroke="#23477e" stroke-width="1.6" fill="none" stroke-linejoin="round" />
<path d="M32.50,610.00 L152.00,540.60 L275.00,540.60" stroke="#23477e" stroke-width="1.5" fill="none" stroke-linejoin="round" />
<path d="M32.50,680.80 L35.55,679.88 L38.61,678.93 L41.66,677.96 L44.72,676.96 L47.77,675.94 L50.83,674.90 L53.88,673.83 L56.94,672.74 L59.99,671.62 L63.04,670.48 L66.10,669.32 L69.15,668.13 L72.21,666.92 L75.26,665.69 L78.32,664.43 L81.37,663.15 L84.43,661.85 L87.48,660.53 L90.53,659.18 L93.59,657.81 L96.64,656.41 L99.70,655.00 L102.75,653.56 L105.81,652.10 L108.86,650.62 L111.92,649.11 L114.97,647.59 L118.02,646.04 L121.08,644.47 L124.13,642.88 L127.19,641.26 L130.24,639.63 L133.30,637.97 L136.35,636.30 L139.41,634.60 L142.46,632.88 L145.51,631.14 L148.57,629.38 L151.62,627.60 L154.68,625.80 L157.73,623.97 L160.79,622.13 L163.84,620.27 L166.89,618.38 L169.95,616.48 L173.00,614.56 L176.06,612.61 L179.11,610.65 L182.17,608.67 L185.22,606.67 L188.28,604.65 L191.33,602.61 L194.38,600.55 L197.44,598.47 L200.49,596.37 L203.55,594.25 L206.60,592.12 L209.66,589.96 L212.71,587.79 L215.77,585.60 L218.82,583.39 L221.87,581.16 L224.93,578.92 L227.98,576.65 L231.04,574.37 L234.09,572.07 L237.15,569.76 L240.20,567.42 L243.26,565.07 L246.31,562.70 L249.36,560.31 L252.42,557.91 L255.47,555.48 L258.53,553.05 L261.58,550.59 L264.64,548.12 L267.69,545.63 L270.75,543.12 L273.80,540.60" stroke="#183c75" stroke-width="2.2" fill="none" stroke-linejoin="round" />
<path d="M274.00,540.60 L703.00,540.60" stroke="#183c75" stroke-width="2.45" fill="none" stroke-linejoin="round" />
<path d="M33.0,75.3 V484.4 M769.7,75.3 V484.4" stroke="#4a4a4a" stroke-width="1.6" fill="none"/>
<path d="M32.2,484.4 H770.5" stroke="#4a4a4a" stroke-width="1.6" fill="none"/>
<path d="M33.0,75.3 H769.7" stroke="#8c8c8c" stroke-width="1.3" fill="none"/>
<path d="M33.0,504.4 V721.6 M769.7,504.4 V722.2" stroke="#4a4a4a" stroke-width="1.6" fill="none"/>
<path d="M33.0,504.4 H769.7" stroke="#8a8a8a" stroke-width="1.4" fill="none"/>
<path d="M30.0,721.6 H770.3000000000001" stroke="#9a9a9a" stroke-width="1.6" fill="none"/>
<path d="M29.0,484.40 H33.0 M29.0,452.86 H33.0 M29.0,421.32 H33.0 M29.0,389.78 H33.0 M29.0,358.24 H33.0 M29.0,326.70 H33.0 M29.0,295.16 H33.0 M29.0,263.62 H33.0 M29.0,232.08 H33.0 M29.0,200.54 H33.0 M29.0,169.00 H33.0 M29.0,137.46 H33.0 M769.7,484.40 H774.0 M769.7,452.86 H774.0 M769.7,421.32 H774.0 M769.7,389.78 H774.0 M769.7,358.24 H774.0 M769.7,326.70 H774.0 M769.7,295.16 H774.0 M769.7,263.62 H774.0 M769.7,232.08 H774.0 M29.0,686.80 H33.0 M29.0,652.00 H33.0 M29.0,617.20 H33.0 M29.0,582.40 H33.0 M29.0,547.60 H33.0 M33.00,484.4 V488.4 M77.70,484.4 V488.4 M122.40,484.4 V488.4 M167.10,484.4 V488.4 M211.80,484.4 V488.4 M256.50,484.4 V488.4 M301.20,484.4 V488.4 M345.90,484.4 V488.4 M390.60,484.4 V488.4 M435.30,484.4 V488.4 M480.00,484.4 V488.4 M524.70,484.4 V488.4 M569.40,484.4 V488.4 M614.10,484.4 V488.4 M658.80,484.4 V488.4 M703.50,484.4 V488.4 M725.85,484.4 V488.4 M748.20,484.4 V488.4" stroke="#4a4a4a" stroke-width="1.5" fill="none"/>
<rect x="667" y="75.3" width="102.70000000000005" height="16.700000000000003" fill="#fff" stroke="#777" stroke-width="1.2"/>
<text x="718.6" y="86.7" text-anchor="middle" font-size="11.3">ALPHA2 32-50 180</text>
<text x="8.5" y="83.8" text-anchor="middle" font-size="11.2">H</text>
<text x="8" y="96" text-anchor="middle" font-size="11.2">[m]</text>
<text x="793" y="83.6" text-anchor="middle" font-size="11.2">eta</text>
<text x="793" y="96" text-anchor="middle" font-size="11.2">[%]</text>
<text x="8.3" y="513.6" text-anchor="middle" font-size="11.2">P1</text>
<text x="8.6" y="525.6" text-anchor="middle" font-size="11.2">[W]</text>
<text x="24.8" y="488.7" text-anchor="end" font-size="11.2">0.0</text>
<text x="24.8" y="457.2" text-anchor="end" font-size="11.2">0.5</text>
<text x="24.8" y="425.6" text-anchor="end" font-size="11.2">1.0</text>
<text x="24.8" y="394.1" text-anchor="end" font-size="11.2">1.5</text>
<text x="24.8" y="362.5" text-anchor="end" font-size="11.2">2.0</text>
<text x="24.8" y="331.0" text-anchor="end" font-size="11.2">2.5</text>
<text x="24.8" y="299.5" text-anchor="end" font-size="11.2">3.0</text>
<text x="24.8" y="267.9" text-anchor="end" font-size="11.2">3.5</text>
<text x="24.8" y="236.4" text-anchor="end" font-size="11.2">4.0</text>
<text x="24.8" y="204.8" text-anchor="end" font-size="11.2">4.5</text>
<text x="24.8" y="173.3" text-anchor="end" font-size="11.2">5.0</text>
<text x="24.8" y="141.8" text-anchor="end" font-size="11.2">5.5</text>
<text x="777.2" y="488.5" text-anchor="start" font-size="11.2">0</text>
<text x="777.2" y="457.0" text-anchor="start" font-size="11.2">10</text>
<text x="777.2" y="425.4" text-anchor="start" font-size="11.2">20</text>
<text x="777.2" y="393.9" text-anchor="start" font-size="11.2">30</text>
<text x="777.2" y="362.3" text-anchor="start" font-size="11.2">40</text>
<text x="777.2" y="330.8" text-anchor="start" font-size="11.2">50</text>
<text x="777.2" y="299.3" text-anchor="start" font-size="11.2">60</text>
<text x="777.2" y="267.7" text-anchor="start" font-size="11.2">70</text>
<text x="777.2" y="236.2" text-anchor="start" font-size="11.2">80</text>
<text x="24.6" y="725.5" text-anchor="end" font-size="11.2">0</text>
<text x="24.6" y="690.7" text-anchor="end" font-size="11.2">5</text>
<text x="24.6" y="655.9" text-anchor="end" font-size="11.2">10</text>
<text x="24.6" y="621.1" text-anchor="end" font-size="11.2">15</text>
<text x="24.6" y="586.3" text-anchor="end" font-size="11.2">20</text>
<text x="24.6" y="551.5" text-anchor="end" font-size="11.2">25</text>
<text x="32.3" y="499.0" text-anchor="middle" font-size="11.2">0</text>
<text x="55.4" y="499.0" text-anchor="middle" font-size="11.2">0,1</text>
<text x="100.0" y="499.0" text-anchor="middle" font-size="11.2">0,3</text>
<text x="144.8" y="499.0" text-anchor="middle" font-size="11.2">0,5</text>
<text x="189.4" y="499.0" text-anchor="middle" font-size="11.2">0,7</text>
<text x="234.2" y="499.0" text-anchor="middle" font-size="11.2">0,9</text>
<text x="278.9" y="499.0" text-anchor="middle" font-size="11.2">1,1</text>
<text x="323.6" y="499.0" text-anchor="middle" font-size="11.2">1,3</text>
<text x="368.2" y="499.0" text-anchor="middle" font-size="11.2">1,5</text>
<text x="412.9" y="499.0" text-anchor="middle" font-size="11.2">1,7</text>
<text x="457.6" y="499.0" text-anchor="middle" font-size="11.2">1,9</text>
<text x="502.4" y="499.0" text-anchor="middle" font-size="11.2">2,1</text>
<text x="547.0" y="499.0" text-anchor="middle" font-size="11.2">2,3</text>
<text x="591.8" y="499.0" text-anchor="middle" font-size="11.2">2,5</text>
<text x="636.5" y="499.0" text-anchor="middle" font-size="11.2">2,7</text>
<text x="681.1" y="499.0" text-anchor="middle" font-size="11.2">2,9</text>
<text x="725.5" y="499.0" text-anchor="start" font-size="11.2">Q [m³/h]</text>
</svg>
</body></html>
